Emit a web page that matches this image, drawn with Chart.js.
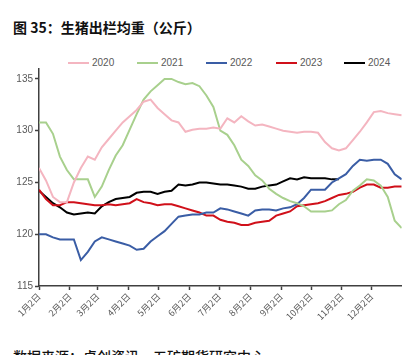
<!DOCTYPE html>
<html>
<head>
<meta charset="utf-8">
<script src="https://cdn.jsdelivr.net/npm/chart.js@4/dist/chart.umd.min.js"></script>
<style>
  html, body { margin: 0; padding: 0; background: #fff; width: 415px; height: 355px; overflow: hidden; }
  #title { position: absolute; left: 13px; top: 17px; font: bold 14px "Noto Sans CJK SC", sans-serif; color: #111; white-space: nowrap; line-height: 20px; }
  #source { position: absolute; left: 13px; top: 346px; font: 500 14px "Noto Sans CJK SC", sans-serif; color: #111; white-space: nowrap; line-height: 20px; }
  #legend { position: absolute; left: 0; top: 55px; width: 415px; height: 16px; }
  .li { position: absolute; top: 0; height: 16px; font: 10px "Liberation Sans", "Open Sans", sans-serif; color: #595959; line-height: 16px; }
  .li span.sw { position: absolute; left: 0; top: 7px; width: 21px; height: 2px; }
  .li span.tx { position: absolute; left: 24px; top: 0; }
  #wrap { position: absolute; left: 0; top: 0; width: 415px; height: 340px; }
</style>
</head>
<body>
<div id="title">图 35：生猪出栏均重（公斤）</div>
<div id="legend"></div>
<div id="wrap"><canvas id="c" width="415" height="340"></canvas></div>
<div id="source">数据来源：卓创资讯、五矿期货研究中心</div>
<script>
// ---- data ----
const seriesNames = ["2020", "2021", "2022", "2023", "2024"];
const seriesColors = ["#F4B5C0", "#A8D08D", "#3A5DA5", "#D0101A", "#000000"];
// weekly observations, week i sits at day 7*i counted from Jan 2
const s2020 = [126.4,125.2,123.6,123.1,123.1,125.0,126.4,127.5,127.2,128.4,129.2,130.0,130.8,131.4,132.0,132.8,133.0,132.2,131.6,131.0,130.8,129.9,130.1,130.2,130.2,130.3,130.2,131.2,130.8,131.4,130.9,130.5,130.6,130.4,130.2,130.0,129.9,129.8,129.9,129.9,129.8,128.9,128.3,128.1,128.3,129.1,129.9,130.8,131.8,131.9,131.7,131.6,131.5];
const s2021 = [130.8,130.8,129.7,127.5,126.2,125.3,125.3,125.3,123.6,124.6,126.2,127.6,128.6,130.1,131.6,133.0,133.8,134.4,135.0,135.0,134.7,134.5,134.6,134.3,133.4,132.3,130.0,129.6,128.6,127.2,126.6,125.7,125.2,124.4,123.9,123.5,123.2,123.0,122.7,122.2,122.2,122.2,122.3,122.9,123.3,124.2,124.7,125.3,125.2,124.7,123.6,121.3,120.6];
const s2022 = [120.0,120.0,119.7,119.5,119.5,119.5,117.5,118.3,119.3,119.7,119.5,119.3,119.1,118.9,118.5,118.6,119.3,119.8,120.3,121.0,121.7,121.8,121.9,121.9,122.1,122.1,122.5,122.4,122.2,122.0,121.8,122.3,122.4,122.4,122.3,122.5,122.6,122.9,123.5,124.3,124.3,124.3,125.0,125.4,125.8,126.6,127.2,127.1,127.2,127.2,126.8,125.8,125.3];
const s2023 = [124.3,123.4,122.8,122.8,123.1,123.1,123.0,122.9,122.8,122.8,122.9,122.8,122.9,123.0,123.4,123.1,123.0,122.8,122.9,122.9,122.7,122.5,122.3,122.1,121.8,121.8,121.4,121.2,121.1,120.9,120.9,121.1,121.2,121.3,121.8,122.0,122.2,122.7,122.8,122.9,123.0,123.2,123.5,123.8,123.9,124.1,124.5,124.8,124.8,124.5,124.5,124.6,124.6];
const s2024 = [124.2,123.6,123.0,122.6,122.1,121.9,122.0,122.1,122.0,122.7,123.1,123.4,123.5,123.6,124.0,124.1,124.1,123.9,124.1,124.2,124.8,124.7,124.8,125.0,125.0,124.9,124.8,124.8,124.7,124.6,124.4,124.4,124.6,124.7,124.8,125.1,125.4,125.3,125.5,125.4,125.4,125.4,125.3,125.3];
const allSeries = [s2020, s2021, s2022, s2023, s2024];
const monthTickDays = [0,31,59,90,120,151,181,212,243,273,304,334];
const monthTickLabels = ["1月2日","2月2日","3月2日","4月2日","5月2日","6月2日","7月2日","8月2日","9月2日","10月2日","11月2日","12月2日"];
const yTicks = [115,120,125,130,135];

// ---- legend (HTML) ----
const legend = document.getElementById('legend');
const legendX = [68, 137, 206, 276, 344];
seriesNames.forEach((n, i) => {
  const d = document.createElement('div');
  d.className = 'li';
  d.style.left = legendX[i] + 'px';
  d.style.width = '50px';
  d.innerHTML = '<span class="sw" style="background:' + seriesColors[i] + '"></span><span class="tx">' + n + '</span>';
  legend.appendChild(d);
});

// ---- chart ----
const datasets = allSeries.map((arr, i) => ({
  label: seriesNames[i],
  data: arr.map((v, k) => ({ x: 7 * k, y: v })),
  borderColor: seriesColors[i],
  backgroundColor: seriesColors[i],
  borderWidth: 2,
  pointRadius: 0,
  tension: 0,
  fill: false
}));

const axisColor = '#404040';
const tickFont = { family: '"Liberation Sans", "Open Sans", sans-serif', size: 10 };

new Chart(document.getElementById('c'), {
  type: 'line',
  data: { datasets },
  options: {
    responsive: false,
    animation: false,
    devicePixelRatio: 1,
    layout: { padding: { top: 68.6, right: 13.3, left: 0, bottom: 0 } },
    plugins: { legend: { display: false }, tooltip: { enabled: false } },
    scales: {
      x: {
        type: 'linear',
        min: 0,
        max: 364,
        afterBuildTicks: (s) => { s.ticks = monthTickDays.map(v => ({ value: v })); },
        afterFit: (s) => { s.height = 54; },
        grid: { drawOnChartArea: false, drawTicks: true, tickLength: 4, color: axisColor, tickColor: axisColor, tickWidth: 1.5 },
        border: { color: axisColor, width: 1.5 },
        ticks: {
          autoSkip: false,
          maxRotation: 45,
          minRotation: 45,
          padding: 1,
          color: '#595959',
          font: { family: '"Noto Sans CJK SC", sans-serif', size: 9 },
          callback: (v) => { const i = monthTickDays.indexOf(v); return i >= 0 ? monthTickLabels[i] : ''; }
        }
      },
      y: {
        min: 115,
        max: 136,
        afterBuildTicks: (s) => { s.ticks = yTicks.map(v => ({ value: v })); },
        afterFit: (s) => { s.width = 39; },
        grid: { drawOnChartArea: false, drawTicks: true, tickLength: 4, color: axisColor, tickColor: axisColor, tickWidth: 1.5 },
        border: { color: axisColor, width: 1.5 },
        ticks: { padding: 2, color: '#595959', font: tickFont }
      }
    }
  }
});
</script>
</body>
</html>
